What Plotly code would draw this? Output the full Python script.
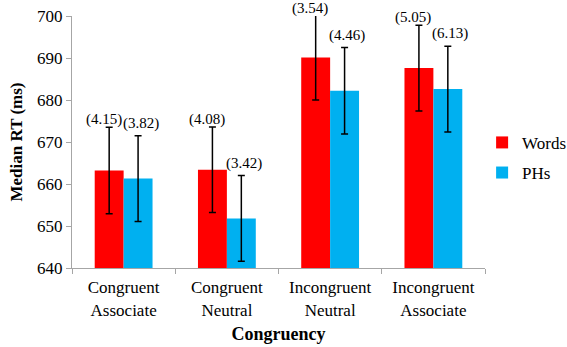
import plotly.graph_objects as go

categories = ["Congruent<br>Associate", "Congruent<br>Neutral", "Incongruent<br>Neutral", "Incongruent<br>Associate"]
words_rt = [663.2, 663.4, 690.1, 687.6]
words_err = [10.3, 10.2, 10.1, 10.2]
words_labels = ["(4.15)", "(4.08)", "(3.54)", "(5.05)"]
phs_rt = [661.3, 651.8, 682.2, 682.6]
phs_err = [10.2, 10.2, 10.3, 10.2]
phs_labels = ["(3.82)", "(3.42)", "(4.46)", "(6.13)"]
y_ticks = [640, 650, 660, 670, 680, 690, 700]
y_range = [640, 700]

FONT = "Times New Roman, Liberation Serif, serif"
RED = "#FF0000"
BLUE = "#00B0F0"
GREY = "#A6A6A6"

fig = go.Figure()
fig.add_trace(go.Bar(
    name="Words", x=categories, y=words_rt, legendgroup="w",
    marker=dict(color=RED, line=dict(width=0)),
    error_y=dict(type="data", array=words_err, color="black", thickness=1.5, width=3.5),
))
fig.add_trace(go.Bar(
    name="PHs", x=categories, y=phs_rt, legendgroup="p",
    marker=dict(color=BLUE, line=dict(width=0)),
    error_y=dict(type="data", array=phs_err, color="black", thickness=1.5, width=3.5),
))

# value labels above error bars (kept inside the axis range so they stay visible)
for i, c in enumerate(categories):
    fig.add_annotation(x=c, y=min(words_rt[i] + words_err[i], y_range[1]), text=words_labels[i],
                       xref="x", yref="y", showarrow=False, yanchor="bottom",
                       xshift=-20, yshift=-3, font=dict(family=FONT, size=15, color="black"))
    fig.add_annotation(x=c, y=min(phs_rt[i] + phs_err[i], y_range[1]), text=phs_labels[i],
                       xref="x", yref="y", showarrow=False, yanchor="bottom",
                       xshift=17, yshift=2, font=dict(family=FONT, size=15, color="black"))

fig.update_layout(
    width=567, height=347,
    margin=dict(l=72, r=82, t=16, b=79, autoexpand=False),
    paper_bgcolor="white", plot_bgcolor="white",
    barmode="group", bargap=0.44, bargroupgap=0,
    font=dict(family=FONT, size=17, color="black"),
    showlegend=True,
    legend=dict(x=0.993, y=0.437, xanchor="left", yanchor="middle",
                font=dict(family=FONT, size=17, color="black"),
                bgcolor="rgba(0,0,0,0)", itemwidth=30, tracegroupgap=5),
    xaxis=dict(
        showline=True, linecolor=GREY, linewidth=1, automargin=False,
        ticks="outside", tickson="boundaries", ticklen=5, tickcolor=GREY,
        ticklabelstandoff=4,
        showgrid=False, tickfont=dict(family=FONT, size=17),
        title=dict(text="<b>Congruency</b>", font=dict(family=FONT, size=18), standoff=8),
    ),
    yaxis=dict(
        range=y_range, tickvals=y_ticks, showline=True, linecolor=GREY, linewidth=1,
        automargin=False,
        ticks="outside", ticklen=5, tickcolor=GREY, showgrid=False, zeroline=False,
        tickfont=dict(family=FONT, size=17),
        title=dict(text="<b>Median RT (ms)</b>", font=dict(family=FONT, size=17), standoff=10),
    ),
)

fig.write_html("out.html", config={"displayModeBar": False},
               post_script="document.body.style.margin='0';")
